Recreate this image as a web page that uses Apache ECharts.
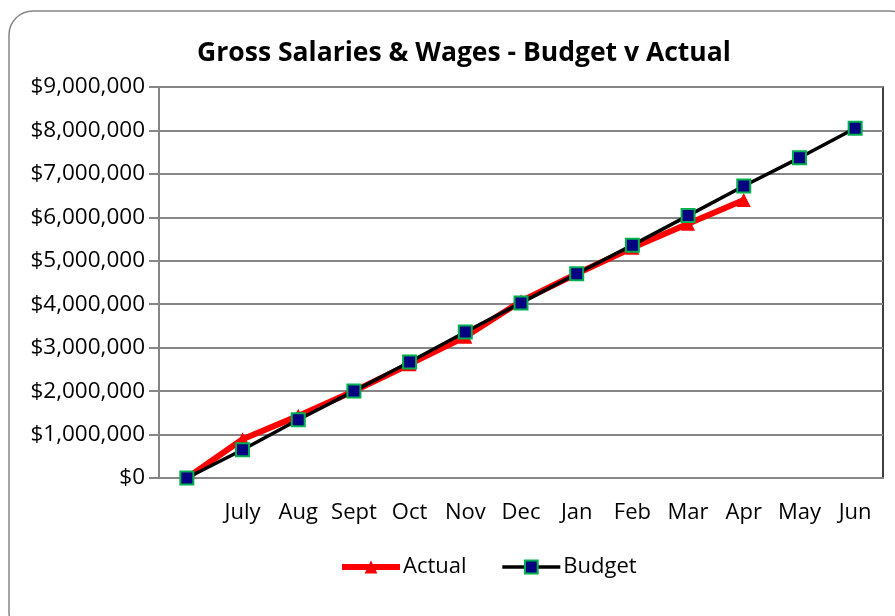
<!DOCTYPE html>
<html>
<head>
<meta charset="utf-8">
<script src="https://cdn.jsdelivr.net/npm/echarts@6/dist/echarts.min.js"></script>
<style>
  html, body { margin: 0; padding: 0; background: #fff; }
  #chart { width: 895px; height: 616px; }
</style>
</head>
<body>
<div id="chart"></div>
<script>
const months = ['', 'July', 'Aug', 'Sept', 'Oct', 'Nov', 'Dec', 'Jan', 'Feb', 'Mar', 'Apr', 'May', 'Jun'];
const actual = [0, 890000, 1430000, 2000000, 2620000, 3250000, 4070000, 4700000, 5300000, 5850000, 6400000];
const budget = [0, 650000, 1340000, 2000000, 2670000, 3360000, 4030000, 4700000, 5360000, 6040000, 6720000, 7370000, 8050000];

const FONT = '"Open Sans"';
const chart = echarts.init(document.getElementById('chart'));

chart.setOption({
  animation: false,
  textStyle: { fontFamily: FONT },
  title: {
    text: 'Gross Salaries & Wages - Budget v Actual',
    left: 459, top: 35, textAlign: 'center',
    textStyle: { fontFamily: FONT, fontSize: 26.5, fontWeight: 'bold', color: '#000' }
  },
  graphic: [{
    type: 'rect', silent: true, z: -10,
    shape: { x: 9, y: 11, width: 905, height: 625, r: 24 },
    style: { fill: '#fff', stroke: '#868686', lineWidth: 1.5 }
  }],
  legend: {
    bottom: 33, left: 334, itemGap: 34, itemWidth: 58, itemHeight: 16,
    textStyle: { fontFamily: FONT, fontSize: 22, color: '#000', padding: [0, 0, 0, -2] },
    data: [
      { name: 'Actual', lineStyle: { width: 6 } },
      { name: 'Budget', lineStyle: { width: 3.5 } }
    ]
  },
  grid: {
    left: 159, top: 87, right: 12, bottom: 138,
    show: true, borderColor: '#000', borderWidth: 1.5
  },
  xAxis: {
    type: 'category', data: months, boundaryGap: true,
    axisLine: { lineStyle: { color: '#868686', width: 2 } },
    axisTick: { length: 8, alignWithLabel: false, lineStyle: { color: '#868686', width: 2 } },
    axisLabel: { fontFamily: FONT, fontSize: 22, color: '#000', margin: 24, interval: 0 },
    splitLine: { show: false }
  },
  yAxis: {
    type: 'value', min: 0, max: 9000000, interval: 1000000,
    axisLine: { show: true, lineStyle: { color: '#868686', width: 2 } },
    axisTick: { show: true, length: 10, lineStyle: { color: '#868686', width: 2 } },
    axisLabel: {
      fontFamily: FONT, fontSize: 22.5, color: '#000', margin: 14,
      formatter: v => '$' + v.toLocaleString('en-US')
    },
    splitLine: { lineStyle: { color: '#868686', width: 2 } }
  },
  series: [
    {
      name: 'Actual', type: 'line', data: actual,
      symbol: 'triangle', symbolSize: 14, showAllSymbol: true,
      lineStyle: { color: '#ff0000', width: 6 },
      itemStyle: { color: '#ff0000' }, z: 2
    },
    {
      name: 'Budget', type: 'line', data: budget,
      symbol: 'rect', symbolSize: 13, showAllSymbol: true,
      lineStyle: { color: '#000', width: 3.5 },
      itemStyle: { color: '#000080', borderColor: '#00b050', borderWidth: 2 }, z: 3
    }
  ]
});
</script>
</body>
</html>
